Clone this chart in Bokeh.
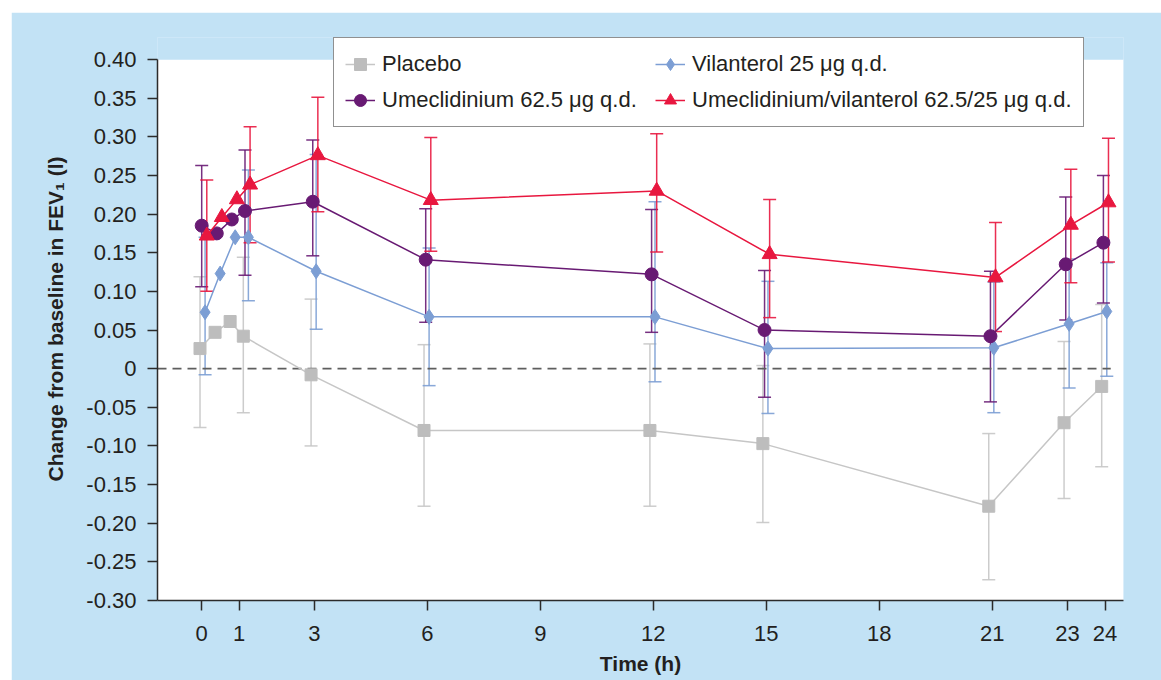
import math
from bokeh.plotting import figure
from bokeh.models import (ColumnDataSource, Range1d, FixedTicker, Whisker, TeeHead,
                          Legend, LegendItem, BoxAnnotation, Spacer)
from bokeh.layouts import column, row
from bokeh.transform import dodge
from bokeh.embed import file_html
from bokeh.resources import INLINE

nan = float("nan")

# ---- data ----
times = [0.05, 0.45, 0.85, 1.2, 3, 6, 12, 15, 21, 23, 24]
x_ticks = [0, 1, 3, 6, 9, 12, 15, 18, 21, 23, 24]
y_ticks = [-0.30, -0.25, -0.20, -0.15, -0.10, -0.05, 0, 0.05, 0.10, 0.15, 0.20, 0.25, 0.30, 0.35, 0.40]
y_tick_labels = ["-0.30", "-0.25", "-0.20", "-0.15", "-0.10", "-0.05", "0", "0.05", "0.10",
                 "0.15", "0.20", "0.25", "0.30", "0.35", "0.40"]

placebo_mean = [0.026, 0.047, 0.061, 0.042, -0.008, -0.080, -0.080, -0.097, -0.178, -0.070, -0.023]
placebo_lower = [-0.076, nan, nan, -0.057, -0.100, -0.178, -0.178, -0.199, -0.273, -0.168, -0.127]
placebo_upper = [0.119, nan, nan, 0.144, 0.090, 0.031, 0.032, 0.004, -0.084, 0.035, 0.083]

umec_mean = [0.185, 0.175, 0.193, 0.204, 0.216, 0.141, 0.122, 0.050, 0.042, 0.135, 0.163]
umec_lower = [0.106, nan, nan, 0.121, 0.146, 0.060, 0.047, -0.037, -0.043, 0.063, 0.085]
umec_upper = [0.263, nan, nan, 0.283, 0.296, 0.207, 0.206, 0.127, 0.126, 0.222, 0.250]

vi_mean = [0.073, 0.123, 0.170, 0.170, 0.126, 0.067, 0.067, 0.026, 0.027, 0.058, 0.074]
vi_lower = [-0.008, nan, nan, 0.088, 0.051, -0.022, -0.017, -0.058, -0.057, -0.025, -0.010]
vi_upper = [0.170, nan, nan, 0.257, 0.277, 0.156, 0.216, 0.113, 0.112, 0.142, 0.137]

umecvi_mean = [0.172, 0.196, 0.219, 0.238, 0.276, 0.218, 0.230, 0.148, 0.118, 0.186, 0.215]
umecvi_lower = [0.100, nan, nan, 0.163, 0.203, 0.152, 0.151, 0.066, 0.048, 0.111, 0.138]
umecvi_upper = [0.244, nan, nan, 0.313, 0.351, 0.299, 0.304, 0.219, 0.189, 0.258, 0.298]

labels = ["Placebo", "Vilanterol 25 μg q.d.", "Umeclidinium 62.5 μg q.d.",
          "Umeclidinium/vilanterol 62.5/25 μg q.d."]

# ---- styling ----
FONT = "Liberation Sans"
TXT = "#231F20"
BG = "#C2E2F5"

series = [
    dict(label=labels[0], mean=placebo_mean, lower=placebo_lower, upper=placebo_upper,
         line="#C6C6C6", color="#BDBDBD", marker="square", size=12, off=-0.09),
    dict(label=labels[1], mean=vi_mean, lower=vi_lower, upper=vi_upper,
         line="#7C9ED4", color="#7C9ED4", marker="diamond", size=15, off=0.045),
    dict(label=labels[2], mean=umec_mean, lower=umec_lower, upper=umec_upper,
         line="#681A73", color="#681A73", marker="circle", size=13, off=-0.045),
    dict(label=labels[3], mean=umecvi_mean, lower=umecvi_lower, upper=umecvi_upper,
         line="#E8173F", color="#E8173F", marker="triangle", size=15, off=0.09),
]

x_lo, x_hi = -1.169, 24.489
y_lo, y_hi = -0.30, 0.42847   # axis itself stops at 0.40; extra room holds the legend

p = figure(width=1150, height=668, x_range=Range1d(x_lo, x_hi), y_range=Range1d(y_lo, y_hi),
           output_backend="svg", toolbar_location=None,
           min_border_left=146, min_border_right=38, min_border_top=25, min_border_bottom=80,
           background_fill_color=BG, border_fill_color=BG, outline_line_color=None)

p.xgrid.visible = False
p.ygrid.visible = False

# white plotting area from -0.30 to 0.40, blue band above it
p.add_layout(BoxAnnotation(bottom=y_ticks[0], top=y_ticks[-1], fill_color="white", fill_alpha=1.0,
                           line_color=None, level="image"))
p.add_layout(BoxAnnotation(bottom=y_ticks[-1], fill_color=BG, fill_alpha=1.0,
                           line_color=None, level="image"))

# zero reference line
p.segment(x0=[x_lo], y0=[0], x1=[times[-1] + 0.15], y1=[0], line_color="#5E5E5E",
          line_width=1.6, line_dash="9 6")

items = {}
for s in series:
    et, el, eu = [], [], []
    for t, lo, up in zip(times, s["lower"], s["upper"]):
        if not (math.isnan(lo) or math.isnan(up)):
            et.append(t); el.append(lo); eu.append(up)
    esrc = ColumnDataSource(dict(t=et, lower=el, upper=eu))
    w = Whisker(source=esrc, base=dodge("t", s["off"]), lower="lower", upper="upper",
                line_color=s["line"], line_width=1.5, line_alpha=0.9,
                upper_head=TeeHead(size=13, line_color=s["line"], line_width=1.5, line_alpha=0.9),
                lower_head=TeeHead(size=13, line_color=s["line"], line_width=1.5, line_alpha=0.9))
    p.add_layout(w)

for i, s in enumerate(series):
    src = ColumnDataSource(dict(t=times, y=s["mean"]))
    lr = p.line(x=dodge("t", s["off"]), y="y", source=src, line_color=s["line"], line_width=1.5)
    sr = p.scatter(x=dodge("t", s["off"]), y="y", source=src, marker=s["marker"], size=s["size"],
                   fill_color=s["color"], line_color=s["color"])
    items[i] = LegendItem(label=s["label"], renderers=[lr, sr])

legend = Legend(items=[items[0], items[1], items[2], items[3]], location=(176, 473),
                orientation="horizontal", ncols=2,
                label_text_font=FONT, label_text_font_size="22px", label_text_color=TXT,
                glyph_width=30, glyph_height=30, label_height=30, label_standoff=7, label_width=267,
                padding=11, spacing=6, border_line_color="#222222", border_line_width=1.2,
                background_fill_color="white", background_fill_alpha=1.0)
p.add_layout(legend)

# axes
p.xaxis.ticker = FixedTicker(ticks=x_ticks)
p.yaxis.ticker = FixedTicker(ticks=y_ticks)
p.yaxis.bounds = (y_ticks[0], y_ticks[-1])
p.yaxis.major_label_overrides = {t: l for t, l in zip(y_ticks, y_tick_labels)}
for ax in (p.xaxis, p.yaxis):
    ax.axis_line_color = "#2B2B2B"
    ax.axis_line_width = 1.5
    ax.major_tick_line_color = "#2B2B2B"
    ax.major_tick_line_width = 1.5
    ax.major_tick_out = 10
    ax.major_tick_in = 0
    ax.minor_tick_line_color = None
    ax.major_label_text_font = FONT
    ax.major_label_text_font_size = "22px"
    ax.major_label_text_color = TXT
    ax.axis_label_text_font = FONT
    ax.axis_label_text_font_size = "21px"
    ax.axis_label_text_font_style = "bold"
    ax.axis_label_text_color = TXT

p.xaxis.axis_label = "Time (h)"
p.yaxis.axis_label = "Change from baseline in FEV₁ (l)"
p.xaxis.major_label_standoff = 15
p.xaxis.axis_label_standoff = 8
p.yaxis.major_label_standoff = 11
p.yaxis.axis_label_standoff = 16

page = column(Spacer(width=1161, height=12), row(Spacer(width=11, height=668), p))

open("out.html", "w").write(file_html(page, INLINE))
